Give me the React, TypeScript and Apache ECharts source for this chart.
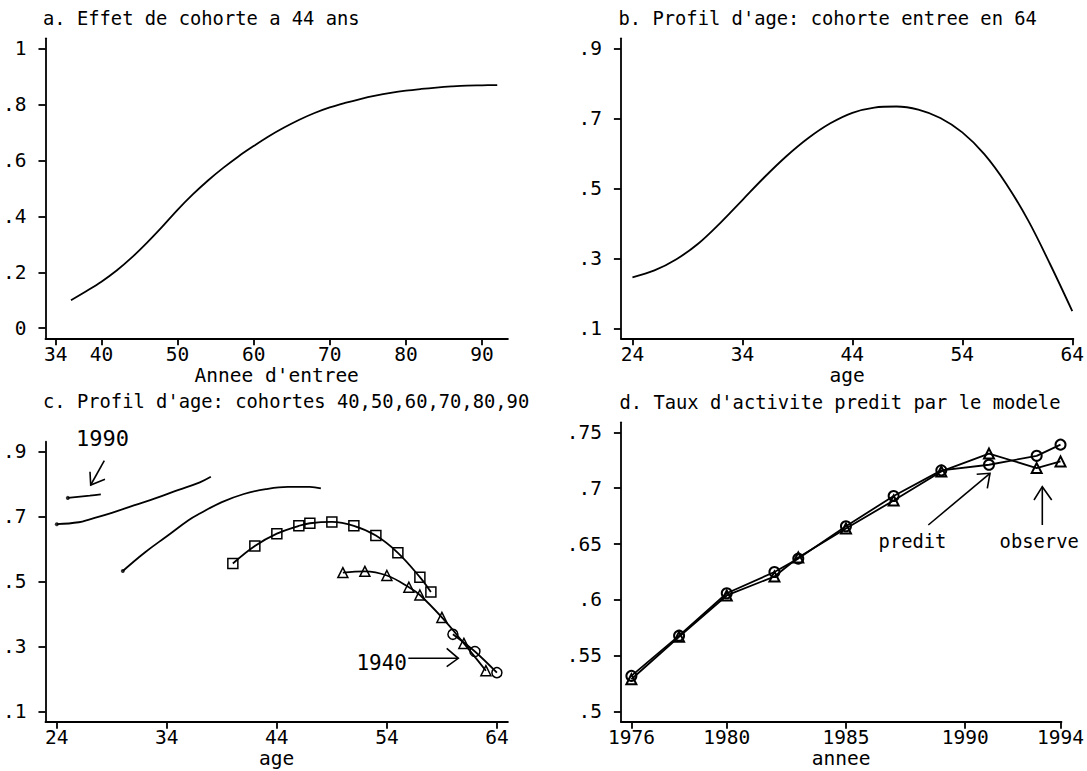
import React, { useEffect, useRef } from "react";
import * as echarts from "echarts";

// ---------- data ----------
// a. cohort effect at 44 years, by year of entry
const entryYears = [36, 38, 40, 42, 44, 46, 48, 50, 52, 54, 56, 58, 60, 62, 64, 66, 68, 70, 72, 74, 76, 78, 80, 82, 84, 86, 88, 90, 92];
const cohortEffect = [0.1, 0.132, 0.166, 0.206, 0.253, 0.306, 0.363, 0.423, 0.478, 0.528, 0.573, 0.614, 0.651, 0.686, 0.717, 0.745, 0.769, 0.789, 0.805, 0.819, 0.831, 0.841, 0.849, 0.855, 0.86, 0.864, 0.867, 0.868, 0.869];

// b. age profile, cohort entering in 64
const agesB = [24, 26, 28, 30, 32, 34, 36, 38, 40, 42, 44, 46, 48, 50, 52, 54, 56, 58, 60, 62, 64];
const profile64 = [0.246, 0.266, 0.298, 0.343, 0.402, 0.467, 0.532, 0.592, 0.644, 0.686, 0.716, 0.731, 0.734, 0.725, 0.701, 0.66, 0.598, 0.513, 0.408, 0.283, 0.15];

// c. age profiles of cohorts
const ages1940 = [60, 62, 64];
const vals1940 = [0.338, 0.285, 0.22];
const ages1950 = [50, 52, 54, 56, 57, 59, 61, 63];
const vals1950 = [0.528, 0.532, 0.519, 0.483, 0.459, 0.39, 0.31, 0.226];
const ages1960 = [40, 42, 44, 46, 47, 49, 51, 53, 55, 57, 58];
const vals1960 = [0.556, 0.61, 0.648, 0.672, 0.68, 0.684, 0.672, 0.642, 0.589, 0.514, 0.468];
const ages1970 = [30, 32, 34, 36, 37, 39, 41, 43, 45, 47, 48];
const vals1970 = [0.533, 0.59, 0.64, 0.69, 0.71, 0.745, 0.77, 0.785, 0.792, 0.792, 0.787];
const ages1980 = [24, 26, 27, 29, 31, 33, 35, 37, 38];
const vals1980 = [0.677, 0.683, 0.692, 0.712, 0.735, 0.757, 0.782, 0.806, 0.823];
const ages1990 = [25, 27, 28];
const vals1990 = [0.758, 0.765, 0.769];

// d. predicted vs observed activity rate
const surveyYears = [1976, 1978, 1980, 1982, 1983, 1985, 1987, 1989, 1991, 1993, 1994];
const predit = [0.532, 0.568, 0.606, 0.625, 0.637, 0.666, 0.693, 0.716, 0.721, 0.729, 0.739];
const observe = [0.529, 0.567, 0.604, 0.621, 0.638, 0.664, 0.689, 0.715, 0.731, 0.718, 0.724];

// tick labels
const ticksAX = [34, 40, 50, 60, 70, 80, 90];
const ticksAY = [0, 0.2, 0.4, 0.6, 0.8, 1];
const ticksAgeX = [24, 34, 44, 54, 64];
const ticksAgeY = [0.1, 0.3, 0.5, 0.7, 0.9];
const ticksDX = [1976, 1980, 1985, 1990, 1994];
const ticksDY = [0.5, 0.55, 0.6, 0.65, 0.7, 0.75];

const titles = [
  "a. Effet de cohorte a 44 ans",
  "b. Profil d'age: cohorte entree en 64",
  "c. Profil d'age: cohortes 40,50,60,70,80,90",
  "d. Taux d'activite predit par le modele",
];

// ---------- helpers ----------
const FONT = "DejaVu Sans Mono";
const FS = 19.5;
const FT = 18.8;
const zip = (xs: number[], ys: number[]) => xs.map((x, i) => [x, ys[i]]);
const fmtY = (v: number) => String(Number(v.toFixed(4))).replace(/^0\./, ".");

function xAxis(gridIndex: number, min: number, max: number, ticks: number[], name: string) {
  return {
    type: "value",
    gridIndex,
    min,
    max,
    name,
    nameLocation: "middle",
    nameGap: 26,
    nameTextStyle: { fontFamily: FONT, fontSize: FS, color: "#000", lineHeight: 20 },
    axisLine: { show: true, onZero: false, lineStyle: { color: "#000", width: 1.8 } },
    axisTick: { show: true, length: 7, customValues: ticks, lineStyle: { color: "#000", width: 1.8 } },
    axisLabel: {
      customValues: ticks,
      margin: 6,
      fontFamily: FONT,
      fontSize: FS,
      color: "#000",
      lineHeight: 20,
      formatter: (v: number) => String(v),
    },
    splitLine: { show: false },
  };
}

function yAxis(gridIndex: number, min: number, max: number, ticks: number[]) {
  return {
    type: "value",
    gridIndex,
    min,
    max,
    axisLine: { show: true, onZero: false, lineStyle: { color: "#000", width: 1.8 } },
    axisTick: { show: true, length: 7, customValues: ticks, lineStyle: { color: "#000", width: 1.8 } },
    axisLabel: {
      customValues: ticks,
      margin: 19,
      fontFamily: FONT,
      fontSize: FS,
      color: "#000",
      formatter: fmtY,
    },
    splitLine: { show: false },
  };
}

const lineStyle = { color: "#000", width: 1.8 };
const hollow = (w: number) => ({ color: "rgba(255,255,255,0)", borderColor: "#000", borderWidth: w });

function curve(idx: number, data: number[][], smooth: any = 0.35) {
  return {
    type: "line",
    xAxisIndex: idx,
    yAxisIndex: idx,
    data,
    smooth,
    symbol: "none",
    lineStyle,
    emphasis: { disabled: true },
  };
}

function marked(idx: number, data: number[][], symbol: string, size: number, bw: number, smooth: any) {
  return {
    type: "line",
    xAxisIndex: idx,
    yAxisIndex: idx,
    data,
    smooth,
    symbol,
    symbolSize: size,
    showSymbol: true,
    lineStyle,
    itemStyle: hollow(bw),
    emphasis: { disabled: true },
  };
}

function arrow(points: number[][], head: number[][]) {
  return [
    { type: "polyline", shape: { points }, style: { stroke: "#000", lineWidth: 1.6, fill: null } },
    { type: "polyline", shape: { points: head }, style: { stroke: "#000", lineWidth: 1.6, fill: null } },
  ];
}

function label(text: string, x: number, y: number, size: number) {
  return {
    type: "text",
    x,
    y,
    style: { text, font: `${size}px "${FONT}"`, fill: "#000", textAlign: "center", textVerticalAlign: "middle" },
  };
}

function titleText(text: string, x: number, y: number) {
  return {
    type: "text",
    x,
    y,
    style: { text, font: `${FT}px "${FONT}"`, fill: "#000", textAlign: "left", textVerticalAlign: "middle" },
  };
}

export default function App() {
  const ref = useRef<HTMLDivElement>(null);

  useEffect(() => {
    if (!ref.current) return;
    const chart = echarts.init(ref.current, undefined, { renderer: "svg" });

    const option: any = {
      animation: false,
      backgroundColor: "#fff",
      grid: [
        { left: 44.8, top: 38.3, width: 463.1, height: 300 },
        { left: 620.9, top: 38.3, width: 452.8, height: 300 },
        { left: 44.8, top: 441.7, width: 463.1, height: 280 },
        { left: 620.9, top: 422.3, width: 452.8, height: 299.4 },
      ],
      xAxis: [
        xAxis(0, 32.65, 93.4, ticksAX, "Annee d'entree"),
        xAxis(1, 22.95, 64.1, ticksAgeX, "age"),
        xAxis(2, 22.97, 65.0, ticksAgeX, "age"),
        xAxis(3, 1975.56, 1994.04, ticksDX, "annee"),
      ],
      yAxis: [
        yAxis(0, -0.036, 1.036, ticksAY),
        yAxis(1, 0.0723, 0.9286, ticksAgeY),
        yAxis(2, 0.069, 0.931, ticksAgeY),
        yAxis(3, 0.491, 0.759, ticksDY),
      ],
      series: [
        curve(0, zip(entryYears, cohortEffect)),
        curve(1, zip(agesB, profile64)),
        curve(2, zip(ages1990, vals1990), 0.4),
        curve(2, zip(ages1980, vals1980), 0.4),
        curve(2, zip(ages1970, vals1970), 0.4),
        {
          type: "scatter",
          xAxisIndex: 2,
          yAxisIndex: 2,
          symbol: "circle",
          symbolSize: 4,
          itemStyle: { color: "#000" },
          data: [
            [ages1990[0], vals1990[0]],
            [ages1980[0], vals1980[0]],
            [ages1970[0], vals1970[0]],
          ],
          emphasis: { disabled: true },
        },
        marked(2, zip(ages1960, vals1960), "rect", 10, 1.5, 0.4),
        marked(2, zip(ages1950, vals1950), "triangle", 10, 1.5, 0.4),
        marked(2, zip(ages1940, vals1940), "circle", 10, 1.5, 0.3),
        marked(3, zip(surveyYears, observe), "triangle", 10, 2, false),
        marked(3, zip(surveyYears, predit), "circle", 10, 2, false),
      ],
      graphic: [
        titleText(titles[0], 43, 18.3),
        titleText(titles[1], 618.5, 18.3),
        titleText(titles[2], 43, 401.7),
        titleText(titles[3], 619.5, 402.5),
        label("1990", 102.5, 438, 22),
        ...arrow([[104.3, 460.7], [90.7, 485]], [[90, 471.7], [90.7, 485], [105, 479.3]]),
        label("1940", 381.7, 663.3, 21),
        ...arrow([[408.3, 658.3], [458.3, 658.3]], [[446.7, 648.3], [458.3, 658.3], [446.7, 666.7]]),
        label("predit", 912.5, 541.5, FT),
        ...arrow([[928.3, 525], [990, 473.3]], [[976.7, 474.3], [990, 473.3], [987.3, 488.3]]),
        label("observe", 1039.2, 541.5, FT),
        ...arrow([[1042.3, 525], [1042.3, 486.7]], [[1034, 500], [1042.3, 486.7], [1051.7, 500]]),
      ],
    };

    chart.setOption(option);
    return () => chart.dispose();
  }, []);

  return (
    <div
      ref={ref}
      style={{ position: "absolute", left: 0, top: 0, width: 1087, height: 771, background: "#fff" }}
    />
  );
}
